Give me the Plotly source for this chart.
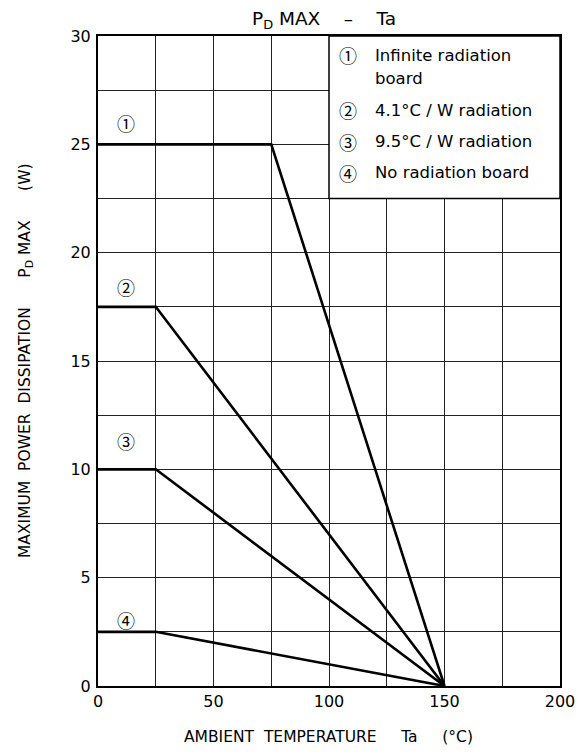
import plotly.graph_objects as go

# Data: derating curves (Ta in °C, Pd max in W)
curve_names = ["①", "②", "③", "④"]
curve1_ta = [0, 75, 150]
curve1_pd = [25, 25, 0]
curve2_ta = [0, 25, 150]
curve2_pd = [17.5, 17.5, 0]
curve3_ta = [0, 25, 150]
curve3_pd = [10, 10, 0]
curve4_ta = [0, 25, 150]
curve4_pd = [2.5, 2.5, 0]

legend_lines = ["Infinite radiation", "board", "4.1°C / W radiation",
                "9.5°C / W radiation", "No radiation board"]
x_ticks = [0, 50, 100, 150, 200]
y_ticks = [0, 5, 10, 15, 20, 25, 30]

FONT = "DejaVu Sans, Noto Sans CJK JP, sans-serif"
CJK = "Noto Sans CJK JP"

fig = go.Figure()
for ta, pd_ in [(curve1_ta, curve1_pd), (curve2_ta, curve2_pd),
                (curve3_ta, curve3_pd), (curve4_ta, curve4_pd)]:
    fig.add_trace(go.Scatter(x=ta, y=pd_, mode="lines",
                             line=dict(color="black", width=2.6),
                             showlegend=False, hoverinfo="skip"))

# curve labels
label_pos = [(12, 26.0), (12, 18.4), (12, 11.3), (12, 3.05)]
for name, (lx, ly) in zip(curve_names, label_pos):
    fig.add_annotation(x=lx, y=ly, text=name, showarrow=False,
                       font=dict(family=CJK, size=18, color="black"))

# legend box
fig.add_shape(type="rect", x0=100, x1=200, y0=22.5, y1=30, xref="x", yref="y",
              fillcolor="white", line=dict(color="black", width=1.5), layer="above")
leg_y = [29.12, 28.06, 26.58, 25.11, 23.68]
leg_circ = ["①", "", "②", "③", "④"]
for t, c, yy in zip(legend_lines, leg_circ, leg_y):
    if c:
        fig.add_annotation(x=108.2, y=yy, text=c, showarrow=False,
                           font=dict(family=CJK, size=18, color="black"))
    fig.add_annotation(x=119, y=yy, text=t, showarrow=False, xanchor="left",
                       font=dict(family=FONT, size=16.5, color="black"))

# title
fig.add_annotation(x=0.5, y=1.0, xref="paper", yref="paper", yanchor="middle",
                   xshift=-5, yshift=16, borderpad=0,
                   text="P<sub>D</sub> MAX    –    Ta", showarrow=False,
                   font=dict(family=FONT, size=18.5, color="black"))
# y title
fig.add_annotation(x=0, y=0.5, xref="paper", yref="paper", xanchor="center",
                   yanchor="middle", xshift=-72, borderpad=0,
                   textangle=-90,
                   text="MAXIMUM  POWER  DISSIPATION      P<sub>D</sub> MAX      (W)",
                   showarrow=False, font=dict(family=FONT, size=15.5, color="black"))
# x title
fig.add_annotation(x=0, y=0, xref="paper", yref="paper", xanchor="left",
                   yanchor="middle", xshift=84, yshift=-51,
                   text="AMBIENT  TEMPERATURE     Ta     (°C)",
                   showarrow=False, font=dict(family=FONT, size=15.5, color="black"))

axis_common = dict(showline=True, linecolor="black", linewidth=2, mirror=True,
                   gridcolor="#222", gridwidth=1, ticks="", zeroline=False,
                   tickfont=dict(family=FONT, size=16, color="black"))
fig.update_xaxes(range=[0, 200], tickvals=x_ticks,
                 minor=dict(dtick=25, tick0=0, showgrid=True, gridcolor="#222", gridwidth=1),
                 **axis_common)
fig.update_yaxes(range=[0, 30], tickvals=y_ticks, ticklabelstandoff=2,
                 minor=dict(dtick=2.5, tick0=0, showgrid=True, gridcolor="#222", gridwidth=1),
                 **axis_common)

fig.update_layout(width=571, height=740, plot_bgcolor="white", paper_bgcolor="white",
                  margin=dict(l=90, r=19, t=28, b=62, autoexpand=False), showlegend=False,
                  font=dict(family=FONT, color="black"))
fig.write_html("out.html")
